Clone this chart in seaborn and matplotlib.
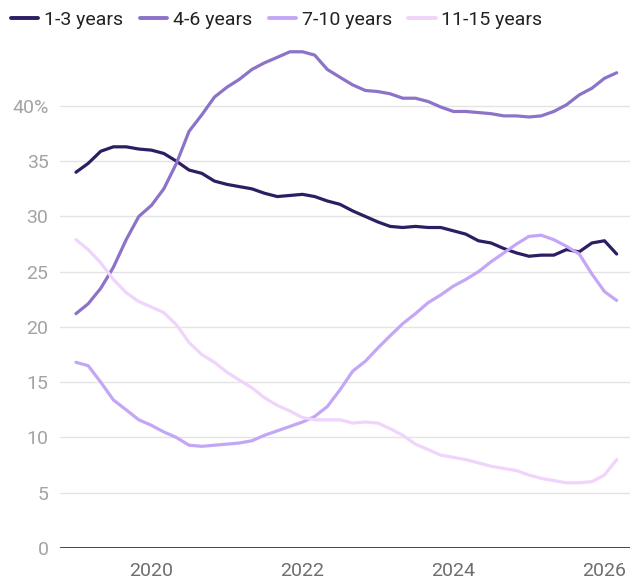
import matplotlib
matplotlib.use("Agg")
import matplotlib.pyplot as plt
import seaborn as sns
import pandas as pd

# Bi-monthly observations, Jan 2019 .. Mar 2026
dates = pd.date_range("2019-01-01", periods=44, freq="2MS")

series_names = ["1-3 years", "4-6 years", "7-10 years", "11-15 years"]

y1_3 = [34.0, 34.8, 35.9, 36.3, 36.3, 36.1, 36.0, 35.7, 35.0, 34.2, 33.9, 33.2,
        32.9, 32.7, 32.5, 32.1, 31.8, 31.9, 32.0, 31.8, 31.4, 31.1, 30.5, 30.0,
        29.5, 29.1, 29.0, 29.1, 29.0, 29.0, 28.7, 28.4, 27.8, 27.6, 27.1, 26.7,
        26.4, 26.5, 26.5, 27.0, 26.8, 27.6, 27.8, 26.6]

y4_6 = [21.2, 22.1, 23.5, 25.4, 27.9, 30.0, 31.0, 32.5, 34.8, 37.7, 39.2, 40.8,
        41.7, 42.4, 43.3, 43.9, 44.4, 44.9, 44.9, 44.6, 43.3, 42.6, 41.9, 41.4,
        41.3, 41.1, 40.7, 40.7, 40.4, 39.9, 39.5, 39.5, 39.4, 39.3, 39.1, 39.1,
        39.0, 39.1, 39.5, 40.1, 41.0, 41.6, 42.5, 43.0]

y7_10 = [16.8, 16.5, 15.0, 13.4, 12.5, 11.6, 11.1, 10.5, 10.0, 9.3, 9.2, 9.3,
         9.4, 9.5, 9.7, 10.2, 10.6, 11.0, 11.4, 11.9, 12.8, 14.3, 16.0, 16.9,
         18.1, 19.2, 20.3, 21.2, 22.2, 22.9, 23.7, 24.3, 25.0, 25.9, 26.7, 27.5,
         28.2, 28.3, 27.9, 27.3, 26.6, 24.8, 23.2, 22.4]

y11_15 = [27.9, 27.0, 25.8, 24.3, 23.1, 22.3, 21.8, 21.3, 20.2, 18.6, 17.5, 16.8,
          15.9, 15.2, 14.5, 13.6, 12.9, 12.4, 11.8, 11.6, 11.6, 11.6, 11.3, 11.4,
          11.3, 10.8, 10.2, 9.4, 8.9, 8.4, 8.2, 8.0, 7.7, 7.4, 7.2, 7.0,
          6.6, 6.3, 6.1, 5.9, 5.9, 6.0, 6.6, 8.0]

colors = ["#2d1d62", "#8c73c9", "#c3a7f6", "#f0d4fb"]

y_ticks = [0, 5, 10, 15, 20, 25, 30, 35, 40]
y_tick_labels = ["0", "5", "10", "15", "20", "25", "30", "35", "40%"]
x_tick_years = [2020, 2022, 2024, 2026]

df = pd.DataFrame({
    "date": list(dates) * 4,
    "value": y1_3 + y4_6 + y7_10 + y11_15,
    "series": sum([[n] * len(dates) for n in series_names], []),
})

sns.set_theme(style="white")
plt.rcParams["font.family"] = ["Roboto", "DejaVu Sans"]

fig = plt.figure(figsize=(6.41, 5.81), dpi=100)
ax = fig.add_axes([0.094, 0.0568, 0.889, 0.875])

sns.lineplot(data=df, x="date", y="value", hue="series", hue_order=series_names,
             palette=dict(zip(series_names, colors)), linewidth=2.3,
             legend=False, ax=ax, zorder=3)

ax.set_ylim(0, 46)
ax.set_xlim(pd.Timestamp("2018-10-17"), pd.Timestamp("2026-05-05"))
ax.set_yticks(y_ticks)
ax.set_yticklabels(y_tick_labels)
ax.set_xticks([pd.Timestamp(f"{y}-01-01") for y in x_tick_years])
ax.set_xticklabels([str(y) for y in x_tick_years])
ax.set_xlabel("")
ax.set_ylabel("")

for s in ["top", "right", "left", "bottom"]:
    ax.spines[s].set_visible(False)
ax.axhline(0, color="#111111", linewidth=1.8, zorder=4)
ax.grid(axis="y", color="#e4e4e4", linewidth=1.0)
ax.grid(axis="x", visible=False)
ax.set_axisbelow(True)

ax.tick_params(axis="y", length=0, pad=8.5, labelsize=14, labelcolor="#a3a3a3")
ax.tick_params(axis="x", length=0, pad=10, labelsize=14, labelcolor="#6e6e6e")

handles = [plt.Line2D([], [], color=c, linewidth=2.8) for c in colors]
fig.legend(handles, series_names, loc="upper left", bbox_to_anchor=(0.005, 0.995),
           ncol=4, frameon=False, fontsize=14, handlelength=1.4,
           handletextpad=0.3, columnspacing=0.85, borderaxespad=0.0,
           labelcolor="#222222")

fig.savefig("out.png", dpi=100)
